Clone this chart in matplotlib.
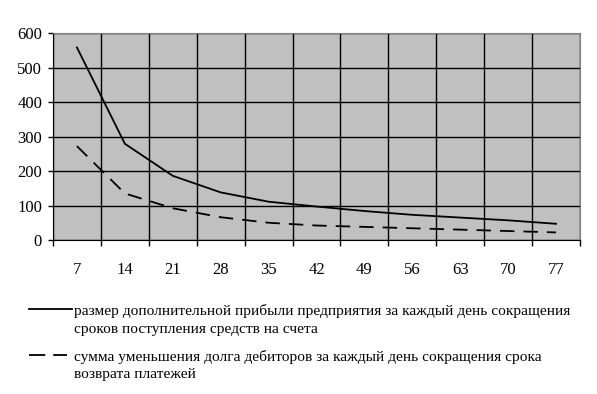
import matplotlib
matplotlib.use("Agg")
import matplotlib.pyplot as plt
from matplotlib.lines import Line2D
import numpy as np

#  Data
days   = ["7", "14", "21", "28", "35", "42", "49", "56", "63", "70", "77"]
profit = [558, 279, 186, 138, 111, 97, 84, 73, 65, 57, 47]
debt   = [272, 135, 92, 66, 50, 42, 38, 34, 30, 26, 22]
labels = [
    "размер дополнительной прибыли предприятия за каждый день сокращения\nсроков поступления средств на счета",
    "сумма уменьшения долга дебиторов за каждый день сокращения срока\nвозврата платежей",
]

plt.rcParams["font.family"] = ["Liberation Serif", "DejaVu Serif"]

W, H = 597, 394
fig = plt.figure(figsize=(W / 100, H / 100), dpi=100)
ax = fig.add_axes([53 / W, 1 - 240 / H, 527 / W, 207 / H])
ax.set_facecolor("#c0c0c0")

x = np.arange(len(days))
l1, = ax.plot(x, profit, color="black", lw=1.3)
l2, = ax.plot(x, debt, color="black", lw=1.3, dashes=(8, 5))

ax.set_xlim(-0.5, len(days) - 0.5)
ax.set_ylim(0, 600)
ax.set_yticks(range(0, 601, 100))
ax.set_xticks(x)
ax.set_xticklabels(days)
ax.set_xticks(np.arange(-0.5, len(days)), minor=True)

ax.grid(True, which="minor", axis="x", color="black", lw=1)
ax.grid(True, which="major", axis="y", color="black", lw=1)
ax.set_axisbelow(True)

ax.tick_params(axis="x", which="major", length=0, pad=15.5, labelsize=12)
ax.tick_params(axis="x", which="minor", length=4.3, width=1, direction="out")
ax.tick_params(axis="y", length=3.6, width=1, direction="out", pad=4.3, labelsize=12)

for s in ["top", "right"]:
    ax.spines[s].set_color("#808080")
for s in ["left", "bottom"]:
    ax.spines[s].set_color("black")

# legend below the plot (sample line beside first text line)
entries = [(l1, 309, 72, [315, 333]), (l2, 355, 67, [361, 378])]
for (line, y_line, x_end, baselines), text in zip(entries, labels):
    fig.add_artist(Line2D([29 / W, x_end / W], [1 - y_line / H] * 2,
                          color="black", lw=line.get_linewidth(),
                          dashes=(9, 4.4) if line is l2 else (None, None)))
    for yb, t in zip(baselines, text.split("\n")):
        fig.text(74 / W, 1 - yb / H, t, fontsize=11.1, va="baseline", ha="left")

fig.savefig("out.png", dpi=100)
